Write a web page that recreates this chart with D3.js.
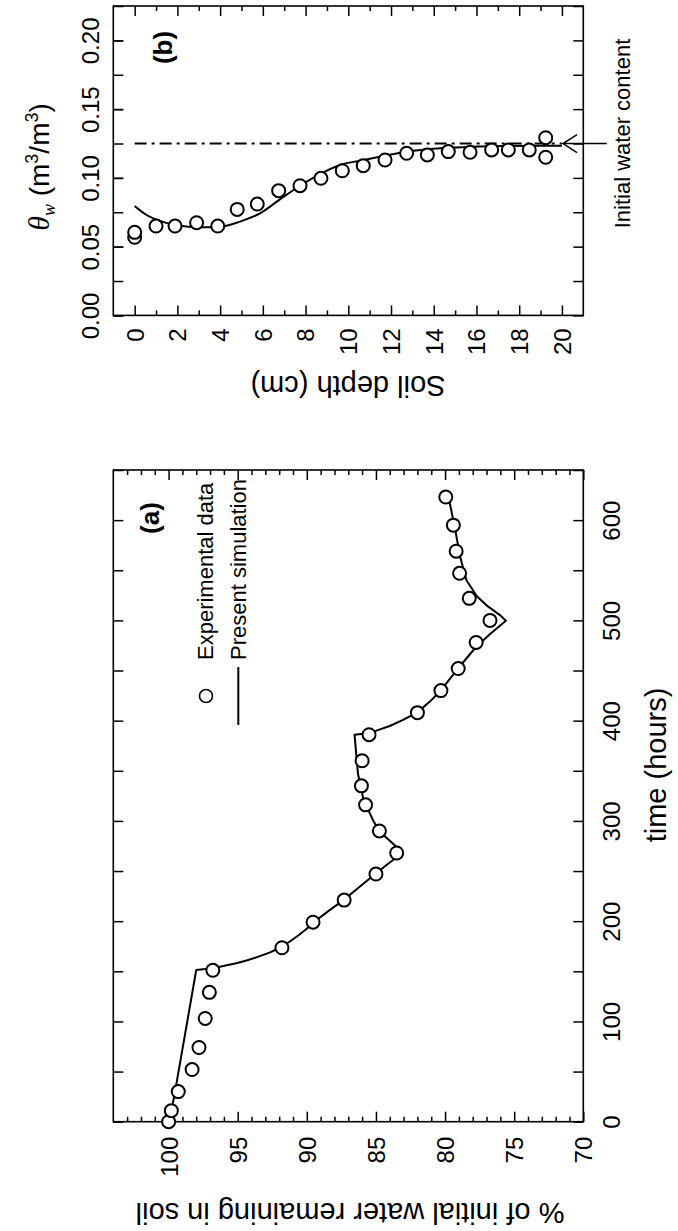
<!DOCTYPE html>
<html>
<head>
<meta charset="utf-8">
<script src="https://cdn.jsdelivr.net/npm/d3@7"></script>
<style>
  html, body { margin: 0; padding: 0; background: #fff; }
  svg { display: block; }
</style>
</head>
<body>
<script>
// ---------------- DATA ----------------
// Panel (a): % of initial water remaining vs time (hours)
const expTime = [0, 11, 30, 52, 74, 103, 129, 151, 173.5, 199, 221, 247, 268, 290, 316, 335, 360, 386, 408, 430, 452, 478, 500, 522, 547, 569, 595, 623];
const expPct  = [100.0, 99.8, 99.3, 98.3, 97.8, 97.35, 97.05, 96.8, 91.8, 89.55, 87.3, 85.0, 83.5, 84.75, 85.75, 86.05, 86.0, 85.5, 82.0, 80.3, 79.05, 77.75, 76.75, 78.25, 78.95, 79.2, 79.4, 79.95];
const simTime = [0, 12, 35, 151.3, 152.3, 154.6, 158, 161, 164.6, 168.6, 173.5, 180, 186, 192, 199, 210, 221, 234, 247, 258, 268.3, 290, 301, 321, 347, 386, 387.5, 390, 394.7, 400.7, 408, 419, 430, 441, 452, 463, 474, 487, 499.7, 505, 510, 515, 524, 540, 563, 593, 623];
const simPct  = [100, 99.78, 99.47, 98.0, 97.35, 96.3, 95.1, 94.3, 93.5, 92.7, 91.95, 91.2, 90.6, 90.05, 89.5, 88.45, 87.35, 86.2, 85.05, 84.05, 83.04, 84.78, 85.22, 85.9, 86.3, 86.55, 85.58, 84.97, 84.0, 83.04, 82.03, 81.1, 80.31, 79.7, 79.06, 78.4, 77.72, 76.7, 75.6, 76.0, 76.5, 77.0, 77.7, 78.45, 78.9, 79.3, 79.75];
const pctTicks  = [100, 95, 90, 85, 80, 75, 70];
const timeTicks = [0, 100, 200, 300, 400, 500, 600];

// Panel (b): volumetric water content vs soil depth
const expDepth = [0, 0, 1.0, 1.89, 2.9, 3.89, 4.8, 5.74, 6.74, 7.74, 8.72, 9.72, 10.7, 11.72, 12.73, 13.7, 14.68, 15.7, 16.71, 17.49, 18.47, 19.24, 19.24];
const expTheta = [0.0568, 0.0604, 0.065, 0.065, 0.0674, 0.065, 0.0771, 0.081, 0.0907, 0.0943, 0.0997, 0.1052, 0.1089, 0.113, 0.1179, 0.1167, 0.1191, 0.1186, 0.1203, 0.1203, 0.1203, 0.1292, 0.115];
const simDepth = [0, 0.56, 1.18, 1.97, 3.06, 4.0, 4.93, 5.87, 6.8, 7.74, 8.68, 9.61, 10.55, 11.64, 12.73, 14.3, 15.85, 17.4, 19.0, 20.0];
const simTheta = [0.0796, 0.073, 0.0687, 0.0655, 0.0641, 0.0645, 0.0682, 0.0742, 0.0844, 0.0943, 0.1028, 0.1094, 0.1125, 0.1159, 0.119, 0.1215, 0.1227, 0.1232, 0.1234, 0.1234];
const initialTheta = 0.125;
const depthTicks = [0, 2, 4, 6, 8, 10, 12, 14, 16, 18, 20];
const thetaTicks = [0, 0.05, 0.10, 0.15, 0.20];

// ---------------- LAYOUT ----------------
const W = 678, H = 1231;
const FONT = '"Liberation Sans", Arial, Helvetica, sans-serif';
const SERIF = '"Liberation Serif", "DejaVu Serif", serif';
const L = 113.3, R = 583.3;

const svg = d3.select("body").append("svg").attr("width", W).attr("height", H);
svg.append("rect").attr("width", W).attr("height", H).attr("fill", "#fff");

function styleAxis(g, withText) {
  g.attr("font-family", FONT).attr("font-size", 24);
  g.select(".domain").remove();
  g.selectAll(".tick line").attr("stroke", "#000").attr("stroke-width", 1.5);
  g.selectAll(".tick text").attr("fill", "#000");
  if (!withText) g.selectAll(".tick text").remove();
  return g;
}

// ================= PANEL (a) =================
const xA = d3.scaleLinear().domain([104, 70]).range([L, R]);
const yA = d3.scaleLinear().domain([0, 650]).range([1121.7, 470]);
const gA = svg.append("g");
const pctMinor = d3.range(71, 104, 1).filter(v => v % 5 !== 0);

const aBot = gA.append("g").attr("transform", `translate(0,${yA(0)})`)
  .call(d3.axisBottom(xA).tickValues(pctTicks).tickSize(-10).tickFormat(d3.format("d")));
styleAxis(aBot, true);
aBot.selectAll(".tick text")
  .attr("x", 0).attr("y", 0).attr("dy", "0.35em")
  .attr("text-anchor", "end")
  .attr("transform", "translate(0,15) rotate(-90)");
styleAxis(gA.append("g").attr("transform", `translate(0,${yA(0)})`)
  .call(d3.axisBottom(xA).tickValues(pctMinor).tickSize(-5)), false);
styleAxis(gA.append("g").attr("transform", `translate(0,${yA(650)})`)
  .call(d3.axisTop(xA).tickValues(pctTicks).tickSize(-10)), false);
styleAxis(gA.append("g").attr("transform", `translate(0,${yA(650)})`)
  .call(d3.axisTop(xA).tickValues(pctMinor).tickSize(-5)), false);
styleAxis(gA.append("g").attr("transform", `translate(${L},0)`)
  .call(d3.axisLeft(yA).tickValues(d3.range(0, 651, 50)).tickSize(-10)), false);
const aRight = gA.append("g").attr("transform", `translate(${R},0)`)
  .call(d3.axisRight(yA).tickValues(timeTicks).tickSize(-10).tickFormat(d3.format("d")));
styleAxis(aRight, true);
aRight.selectAll(".tick text")
  .attr("x", 0).attr("y", 0).attr("dy", 0)
  .attr("text-anchor", "middle")
  .attr("transform", "translate(37,0) rotate(-90)");
styleAxis(gA.append("g").attr("transform", `translate(${R},0)`)
  .call(d3.axisRight(yA).tickValues(d3.range(50, 651, 100)).tickSize(-10)), false);

gA.append("rect").attr("x", L).attr("y", yA(650)).attr("width", R - L).attr("height", yA(0) - yA(650))
  .attr("fill", "none").attr("stroke", "#000").attr("stroke-width", 1.6);

const simA = simTime.map((t, i) => ({ t, p: simPct[i] }));
gA.append("path").datum(simA)
  .attr("d", d3.line().x(d => xA(d.p)).y(d => yA(d.t)))
  .attr("fill", "none").attr("stroke", "#000").attr("stroke-width", 2).attr("stroke-linejoin", "round");
const expA = expTime.map((t, i) => ({ t, p: expPct[i] }));
gA.selectAll("circle.exp").data(expA).join("circle")
  .attr("class", "exp")
  .attr("cx", d => xA(d.p)).attr("cy", d => yA(d.t)).attr("r", 6.5)
  .attr("fill", "#fff").attr("stroke", "#000").attr("stroke-width", 2);

// legend
gA.append("circle").attr("cx", 206).attr("cy", 696).attr("r", 6.5)
  .attr("fill", "#fff").attr("stroke", "#000").attr("stroke-width", 1.6);
gA.append("line").attr("x1", 238.3).attr("x2", 238.3).attr("y1", 725).attr("y2", 667)
  .attr("stroke", "#000").attr("stroke-width", 2);
gA.append("text").attr("transform", "translate(212.7,660) rotate(-90)")
  .attr("font-family", FONT).attr("font-size", 22).attr("text-anchor", "start")
  .text("Experimental data");
gA.append("text").attr("transform", "translate(246,660) rotate(-90)")
  .attr("font-family", FONT).attr("font-size", 22).attr("text-anchor", "start")
  .text("Present simulation");
gA.append("text").attr("transform", "translate(150,518) rotate(-90)")
  .attr("font-family", FONT).attr("font-size", 26).attr("font-weight", "bold")
  .attr("text-anchor", "middle").attr("dy", "0.35em").text("(a)");

svg.append("text").attr("transform", `translate(350,1203) rotate(180)`)
  .attr("font-family", FONT).attr("font-size", 29).attr("text-anchor", "middle")
  .text("% of initial water remaining in soil");
svg.append("text").attr("transform", `translate(666,765) rotate(-90)`)
  .attr("font-family", FONT).attr("font-size", 29).attr("text-anchor", "middle")
  .text("time (hours)");

// ================= PANEL (b) =================
const xB = d3.scaleLinear().domain([-1, 21]).range([L, R]);
const yB = d3.scaleLinear().domain([0, 0.225]).range([315.4, 6]);
const gB = svg.append("g");
const depthMinor = d3.range(1, 20, 2);

const bBot = gB.append("g").attr("transform", `translate(0,${yB(0)})`)
  .call(d3.axisBottom(xB).tickValues(depthTicks).tickSize(-10).tickFormat(d3.format("d")));
styleAxis(bBot, true);
bBot.selectAll(".tick text")
  .attr("x", 0).attr("y", 0).attr("dy", "0.35em")
  .attr("text-anchor", "end")
  .attr("transform", "translate(0,13) rotate(-90)");
styleAxis(gB.append("g").attr("transform", `translate(0,${yB(0)})`)
  .call(d3.axisBottom(xB).tickValues(depthMinor).tickSize(-5)), false);
styleAxis(gB.append("g").attr("transform", `translate(0,${yB(0.225)})`)
  .call(d3.axisTop(xB).tickValues(depthTicks).tickSize(-10)), false);
styleAxis(gB.append("g").attr("transform", `translate(0,${yB(0.225)})`)
  .call(d3.axisTop(xB).tickValues(depthMinor).tickSize(-5)), false);

const thetaAll = d3.range(0, 10).map(i => i * 0.025);
const bLeft = gB.append("g").attr("transform", `translate(${L},0)`)
  .call(d3.axisLeft(yB).tickValues(thetaTicks).tickSize(-10).tickFormat(d3.format(".2f")));
styleAxis(bLeft, true);
bLeft.selectAll(".tick text")
  .attr("x", 0).attr("y", 0).attr("dy", 0)
  .attr("text-anchor", "middle")
  .attr("transform", "translate(-14.3,0) rotate(-90)");
styleAxis(gB.append("g").attr("transform", `translate(${L},0)`)
  .call(d3.axisLeft(yB).tickValues(thetaAll).tickSize(-10)), false);
styleAxis(gB.append("g").attr("transform", `translate(${R},0)`)
  .call(d3.axisRight(yB).tickValues(thetaAll).tickSize(-10)), false);

gB.append("rect").attr("x", L).attr("y", yB(0.225)).attr("width", R - L).attr("height", yB(0) - yB(0.225))
  .attr("fill", "none").attr("stroke", "#000").attr("stroke-width", 1.6);

gB.append("line").attr("x1", xB(0)).attr("x2", xB(20)).attr("y1", yB(initialTheta)).attr("y2", yB(initialTheta))
  .attr("stroke", "#000").attr("stroke-width", 2).attr("stroke-dasharray", "12,5,3,5");
const tipX = xB(20.05), ay = yB(initialTheta);
gB.append("line").attr("x1", xB(22.1)).attr("x2", tipX).attr("y1", ay).attr("y2", ay)
  .attr("stroke", "#000").attr("stroke-width", 1.5);
gB.append("path").attr("d", `M${tipX + 14},${ay - 9} L${tipX},${ay} L${tipX + 14},${ay + 9}`)
  .attr("fill", "none").attr("stroke", "#000").attr("stroke-width", 1.5);
gB.append("text").attr("transform", "translate(630,133.5) rotate(-90)")
  .attr("font-family", FONT).attr("font-size", 22).attr("text-anchor", "middle")
  .text("Initial water content");

const simB = simDepth.map((d, i) => ({ d, v: simTheta[i] }));
gB.append("path").datum(simB)
  .attr("d", d3.line().x(d => xB(d.d)).y(d => yB(d.v)).curve(d3.curveMonotoneX))
  .attr("fill", "none").attr("stroke", "#000").attr("stroke-width", 2);
const expB = expDepth.map((d, i) => ({ d, v: expTheta[i] }));
gB.selectAll("circle.exp").data(expB).join("circle")
  .attr("class", "exp")
  .attr("cx", d => xB(d.d)).attr("cy", d => yB(d.v)).attr("r", 6.5)
  .attr("fill", "#fff").attr("stroke", "#000").attr("stroke-width", 2);

gB.append("text").attr("transform", "translate(162.5,47.5) rotate(-90)")
  .attr("font-family", FONT).attr("font-size", 26).attr("font-weight", "bold")
  .attr("text-anchor", "middle").attr("dy", "0.35em").text("(b)");

svg.append("text").attr("transform", `translate(348,376) rotate(180)`)
  .attr("font-family", FONT).attr("font-size", 29).attr("text-anchor", "middle")
  .text("Soil depth (cm)");

const th = svg.append("text").attr("transform", "translate(49,167) rotate(-90)")
  .attr("font-family", FONT).attr("font-size", 28).attr("text-anchor", "middle");
th.append("tspan").attr("font-family", SERIF).attr("font-style", "italic").attr("font-size", 30).text("θ");
th.append("tspan").attr("font-family", SERIF).attr("font-style", "italic")
  .attr("font-size", 18).attr("dy", 6).text("w");
th.append("tspan").attr("dy", -6).text(" (m");
th.append("tspan").attr("font-size", 18).attr("dy", -11).text("3");
th.append("tspan").attr("dy", 11).text("/m");
th.append("tspan").attr("font-size", 18).attr("dy", -11).text("3");
th.append("tspan").attr("dy", 11).text(")");
</script>
</body>
</html>
